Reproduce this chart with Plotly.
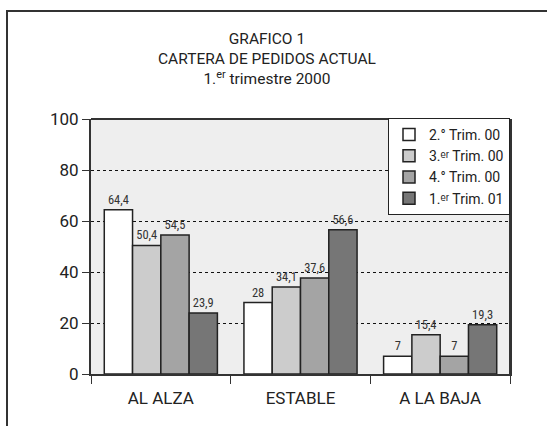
import plotly.graph_objects as go

categories = ["AL ALZA", "ESTABLE", "A LA BAJA"]
series_names = ["2.° Trim. 00", "3.ᵉʳ Trim. 00", "4.° Trim. 00", "1.ᵉʳ Trim. 01"]
trim2_00 = [64.4, 28, 7]
trim3_00 = [50.4, 34.1, 15.4]
trim4_00 = [54.5, 37.6, 7]
trim1_01 = [23.9, 56.6, 19.3]
y_ticks = [0, 20, 40, 60, 80, 100]

colors = ["#ffffff", "#cccccc", "#a4a4a4", "#767676"]
FONT = "Roboto, Liberation Sans, sans-serif"
NARROW = "Roboto Condensed, Liberation Sans Narrow, Roboto, sans-serif"

W, H = 547, 426
L, R, T, B = 91, 37, 119, 52
pw, ph = W - L - R, H - T - B

fig = go.Figure()
for name, vals, c in zip(series_names, [trim2_00, trim3_00, trim4_00, trim1_01], colors):
    fig.add_trace(go.Bar(
        x=categories, y=vals, name=name,
        marker=dict(color=c, line=dict(color="#222222", width=1.5)),
        text=[("%g" % v).replace(".", ",") for v in vals],
        textposition="outside", cliponaxis=False,
        textfont=dict(family=NARROW, size=12.5, color="#333333"),
    ))

def px_x(p):
    return (p - L) / pw

def px_y(p):
    return (H - B - p) / ph

fig.update_layout(
    width=W, height=H,
    margin=dict(l=L, r=R, t=T, b=B),
    paper_bgcolor="white", plot_bgcolor="#eeeeee",
    barmode="group", bargap=0.19, bargroupgap=0,
    font=dict(family=FONT, color="#222222"),
    showlegend=True,
    legend=dict(
        x=1, xanchor="right", y=px_y(118), yanchor="top",
        bgcolor="white", bordercolor="#222222", borderwidth=1,
        font=dict(family=FONT, size=14, color="#222222"),
        tracegroupgap=0, itemwidth=30,
    ),
    xaxis=dict(
        showline=True, linecolor="#333333", linewidth=2, mirror=False,
        ticks="outside", ticklen=8, tickcolor="#333333", tickwidth=1,
        tickson="boundaries", ticklabelstandoff=8,
        tickfont=dict(family=FONT, size=17, color="#222222"),
        showgrid=False,
    ),
    yaxis=dict(
        range=[0, 100], tickvals=y_ticks,
        showline=True, linecolor="#333333", linewidth=2, mirror=True,
        ticks="outside", ticklen=7, tickcolor="#333333", tickwidth=1,
        tickfont=dict(family=FONT, size=17, color="#222222"),
        showgrid=True, gridcolor="#111111", gridwidth=1, griddash="dot",
        zeroline=False,
    ),
    shapes=[
        dict(type="rect", xref="paper", yref="paper",
             x0=px_x(7), x1=px_x(600), y0=px_y(480), y1=px_y(11),
             line=dict(color="#333333", width=2), fillcolor="rgba(0,0,0,0)", layer="below"),
        dict(type="line", xref="paper", yref="paper",
             x0=1, x1=1, y0=0, y1=1, line=dict(color="#333333", width=2)),
        dict(type="line", xref="paper", yref="paper",
             x0=0, x1=1, y0=1, y1=1, line=dict(color="#333333", width=2)),
    ],
    annotations=[
        dict(xref="paper", yref="paper", x=px_x(267), y=px_y(59), xanchor="center", yanchor="middle",
             text="GRAFICO 1<br>CARTERA DE PEDIDOS ACTUAL<br>1.<sup>er</sup> trimestre 2000",
             showarrow=False, font=dict(family=FONT, size=15.5, color="#222222")),
    ],
)

fig.write_html("out.html", config={"displayModeBar": False},
               post_script="document.body.style.margin='0';document.body.style.overflow='hidden';")
